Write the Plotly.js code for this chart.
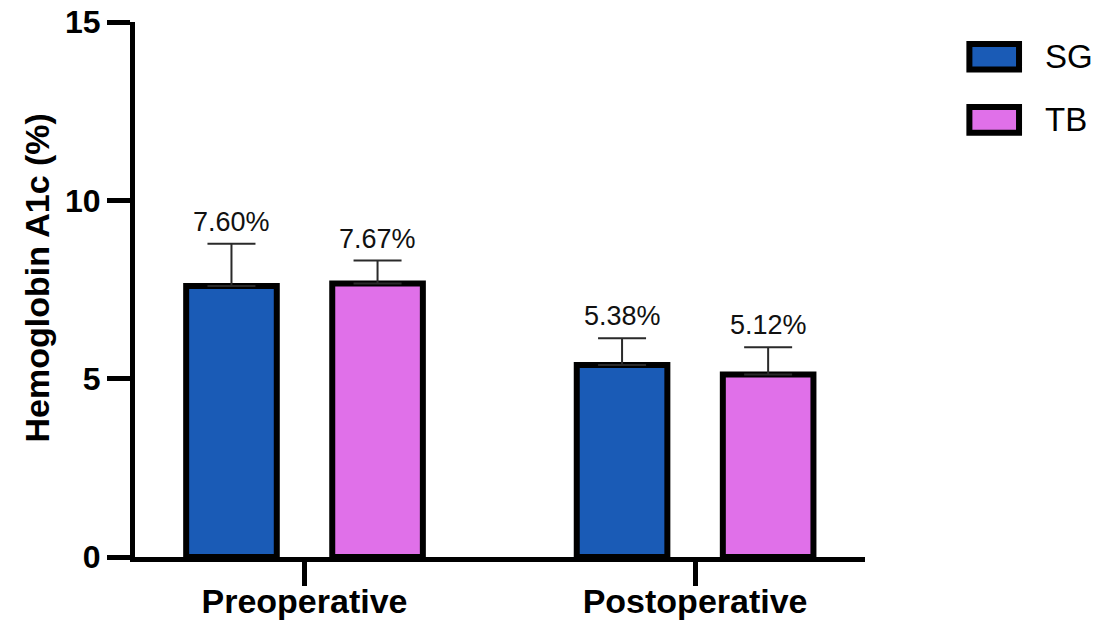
<!DOCTYPE html>
<html>
<head>
<meta charset="utf-8">
<script src="https://cdn.plot.ly/plotly-3.0.1.min.js"></script>
<style>html,body{margin:0;padding:0;background:#fff;}#chart{width:1105px;height:625px;}</style>
</head>
<body>
<div id="chart"></div>
<script>
// ---- data ----
const categories = ["Preoperative", "Postoperative"];
const seriesNames = ["SG", "TB"];
const sgValues = [7.60, 5.38];
const tbValues = [7.67, 5.12];
const sgErrors = [1.18, 0.75];
const tbErrors = [0.64, 0.76];
const sgLabels = ["7.60%", "5.38%"];
const tbLabels = ["7.67%", "5.12%"];
const yTicks = [0, 5, 10, 15];
const yTitle = "Hemoglobin A1c (%)";

// ---- style ----
const colors = ["#1a5bb6", "#e070e9"];
const FONT = "Helvetica, Arial, 'Liberation Sans', sans-serif";
const barW = 0.232;
const centerOff = 0.187;
const offsets = [-centerOff, centerOff];

const values = [sgValues, tbValues];
const errors = [sgErrors, tbErrors];
const labels = [sgLabels, tbLabels];

const traces = values.map((v, i) => ({
  type: "bar",
  name: seriesNames[i],
  x: categories,
  y: v,
  width: barW,
  offset: offsets[i] - barW / 2,
  marker: {color: colors[i], line: {color: "#000", width: 6}},
  error_y: {type: "data", symmetric: false, array: errors[i], arrayminus: v.map(() => 0),
            color: "#2a2a2a", thickness: 2, width: 24},
  showlegend: false,
  hoverinfo: "skip"
}));

const annotations = [];
values.forEach((v, i) => {
  v.forEach((val, j) => {
    annotations.push({
      x: j + offsets[i], y: val + errors[i][j], xref: "x", yref: "y",
      text: labels[i][j], showarrow: false, yanchor: "bottom", yshift: 5,
      font: {family: FONT, size: 27, color: "#111"}
    });
  });
});

// y-axis title (as rotated annotation to match vertical placement)
annotations.push({
  xref: "paper", yref: "paper", x: -0.134, y: 0.521, xanchor: "center", yanchor: "middle",
  textangle: -90, text: yTitle, showarrow: false,
  font: {family: FONT, size: 34, color: "#000", weight: "bold"}
});

// custom legend (big swatches)
const shapes = [];
const legendY = [0.935, 0.817];
seriesNames.forEach((n, i) => {
  shapes.push({type: "rect", xref: "paper", yref: "paper",
    x0: 1.143, x1: 1.211, y0: legendY[i] - 0.024, y1: legendY[i] + 0.024,
    fillcolor: colors[i], line: {color: "#000", width: 6}});
  annotations.push({xref: "paper", yref: "paper", x: 1.244, y: legendY[i],
    xanchor: "left", yanchor: "middle", text: n, showarrow: false,
    font: {family: FONT, size: 33, color: "#000"}});
});

const layout = {
  width: 1105, height: 625,
  margin: {l: 135, r: 240, t: 22, b: 68, pad: 0},
  paper_bgcolor: "#fff", plot_bgcolor: "#fff",
  barmode: "overlay",
  xaxis: {
    type: "category", range: [-0.434, 1.435],
    showline: true, linecolor: "#000", linewidth: 5,
    ticks: "outside", ticklen: 24, tickwidth: 5, tickcolor: "#000",
    ticklabelstandoff: -14,
    showgrid: false, zeroline: false,
    tickfont: {family: FONT, size: 34, color: "#000", weight: "bold"}
  },
  yaxis: {
    range: [0, 15], tickvals: yTicks, ticktext: yTicks.map(String),
    showline: true, linecolor: "#000", linewidth: 5,
    ticks: "outside", ticklen: 23, tickwidth: 5, tickcolor: "#000",
    showgrid: false, zeroline: false,
    tickfont: {family: FONT, size: 32, color: "#000", weight: "bold"}
  },
  annotations: annotations,
  shapes: shapes,
  showlegend: false
};

Plotly.newPlot("chart", traces, layout, {displayModeBar: false, staticPlot: true});
</script>
</body>
</html>
